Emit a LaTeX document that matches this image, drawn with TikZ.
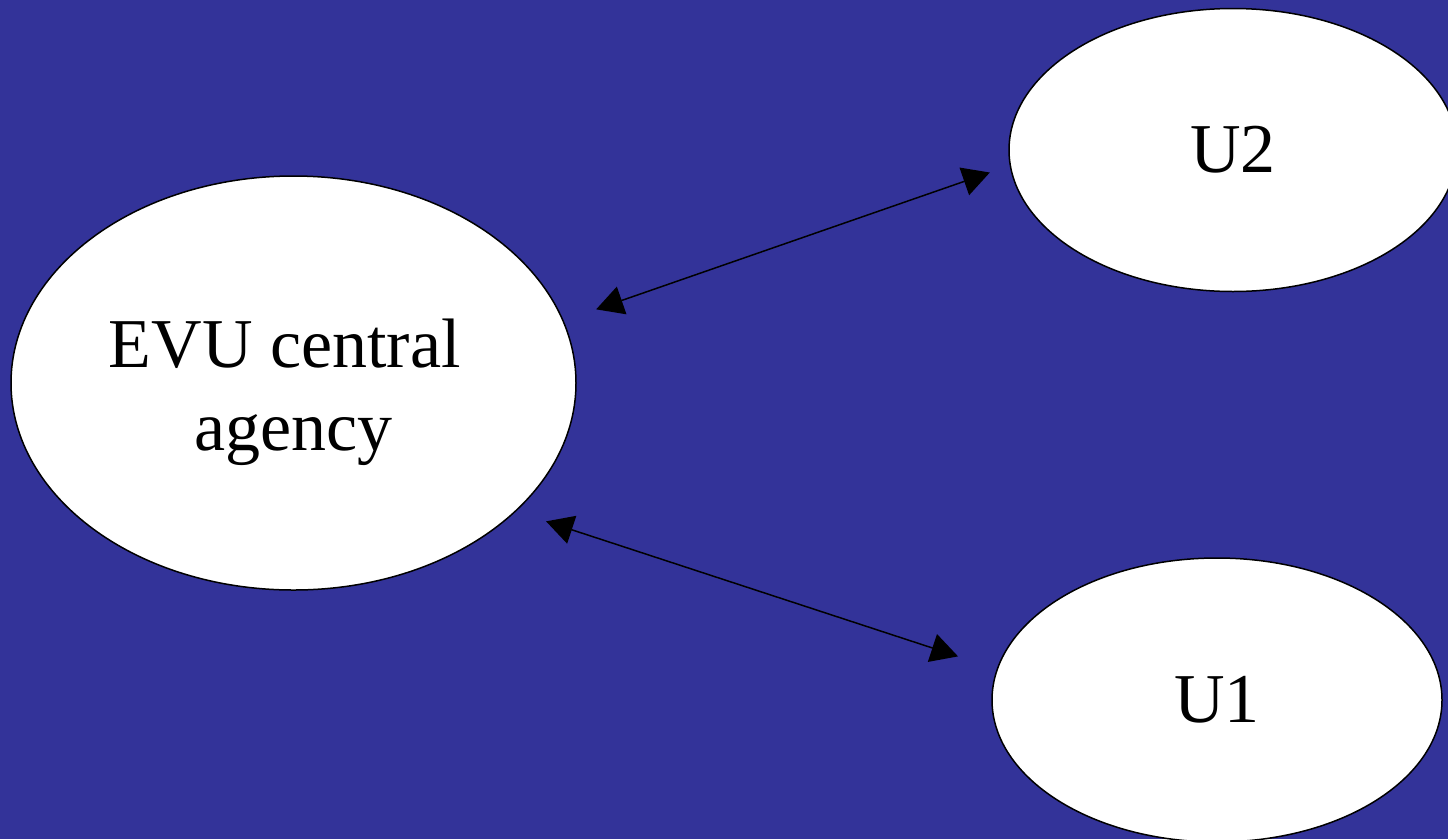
\documentclass[tikz,border=0pt]{standalone}
\usepackage{fontspec}
\setmainfont{Liberation Serif}
\usepackage{tikz}
\usetikzlibrary{shapes.geometric,arrows.meta,positioning}
\definecolor{slideblue}{RGB}{51,51,153}

\begin{document}
\begin{tikzpicture}[x=1pt, y=-1pt, >={Triangle[length=27pt,width=29pt]},
    party/.style={draw, ellipse, fill=white, line width=1.5pt, inner sep=0pt,
        font=\fontsize{70pt}{83pt}\selectfont, align=center},
    link/.style={<->, line width=1.5pt}]
        % Background
        \useasboundingbox (0,0) rectangle (1448,839);
        \fill[slideblue] (0,0) rectangle (1448,839);

        % Nodes
        \node (evu) [party, minimum width=565pt, minimum height=414pt,
            label={[name=evu_text, yshift=-9pt, font=\fontsize{70pt}{83pt}\selectfont, align=center]center:EVU central\hphantom{\ }\\agency}]
            at (293.5,383) {};
        \node (u2) [party, minimum width=448pt, minimum height=283pt] at (1233,150) {U2};
        \node (u1) [party, minimum width=450pt, minimum height=284pt] at (1217,700) {U1};

        % Links
        \draw[link, shorten <=34.4pt, shorten >=21pt] (evu.13.3) -- (u2.184.9);
        \draw[link, shorten <=31.6pt, shorten >=40.6pt] (evu.-30.2) -- (u1.172.7);
    \end{tikzpicture}
\end{document}
